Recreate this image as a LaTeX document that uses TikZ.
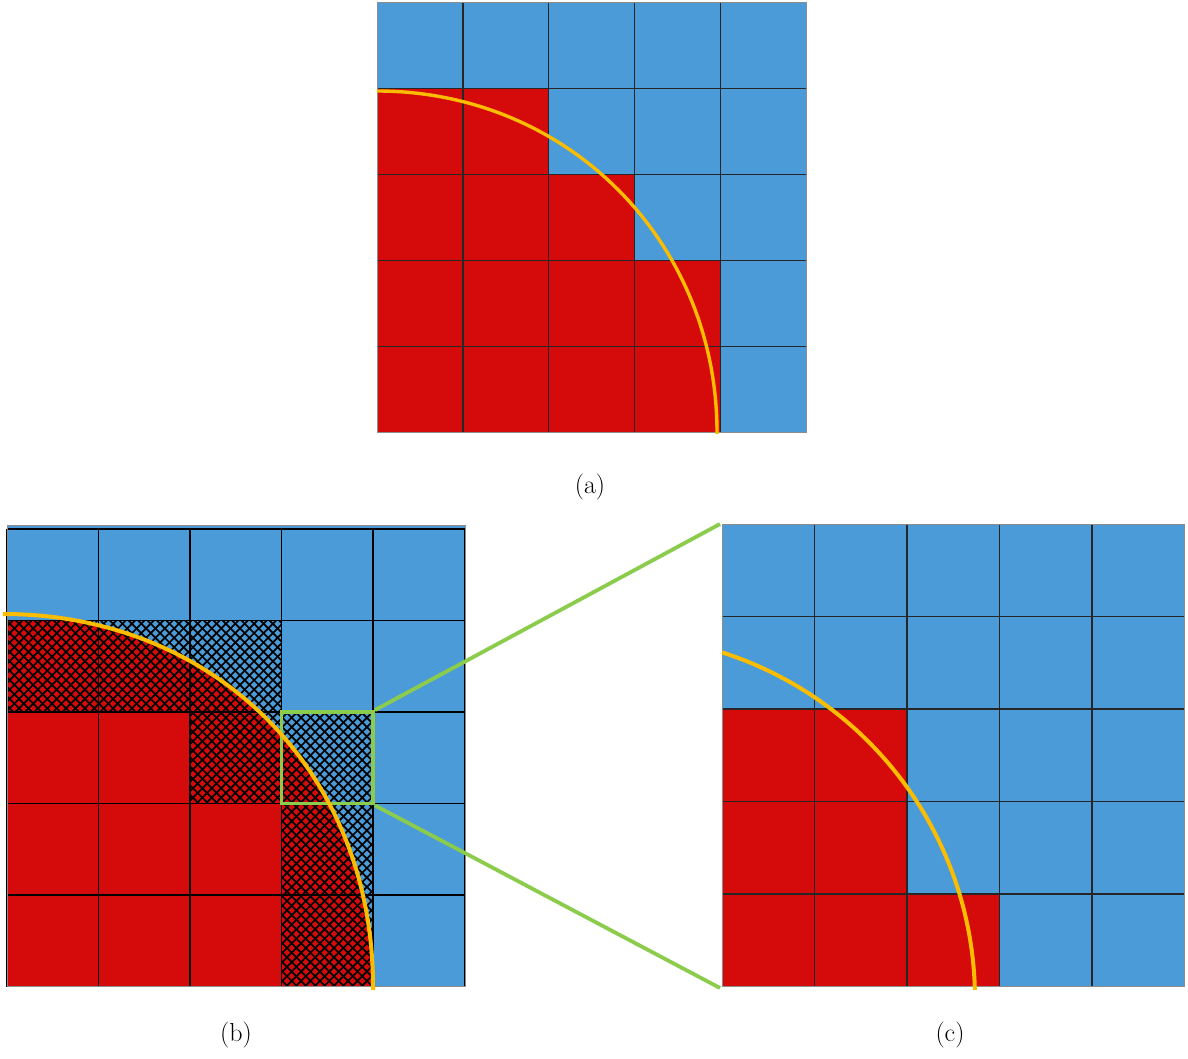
\documentclass[tikz,border=0pt]{standalone}
\begin{document}
\definecolor{cblue}{RGB}{74,155,215}
\definecolor{cred}{RGB}{213,11,11}
\definecolor{corange}{RGB}{252,188,0}
\definecolor{cgreen}{RGB}{140,204,76}
\begin{tikzpicture}[x=1pt,y=-1pt,
  thingrid/.style={draw=black!85,line width=1.2pt},
  thickgrid/.style={draw=black,line width=1.8pt},
  frameline/.style={draw=black!45,line width=1pt},
  arcline/.style={draw=corange,line width=4pt},
  hatchline/.style={draw=black,line width=1.7pt},
  greenline/.style={draw=cgreen,line width=3.8pt},
  caption/.style={font=\fontsize{26}{30}\selectfont,inner sep=0pt}]
\useasboundingbox (0,0) rectangle (1188,1059);

% ---------- panel (a) ----------
\def\ax{377}\def\ay{3}\def\ad{85.9}
\fill[cblue] (\ax,\ay) rectangle ++(5*\ad,5*\ad);
\foreach \c/\r in {0/1,1/1,0/2,1/2,2/2,0/3,1/3,2/3,3/3,0/4,1/4,2/4,3/4}
  \fill[cred] ({\ax+\c*\ad},{\ay+\r*\ad}) rectangle ++(\ad,\ad);
\foreach \i in {1,...,4}{
  \draw[thingrid] ({\ax+\i*\ad},\ay) -- ++(0,5*\ad);
  \draw[thingrid] (\ax,{\ay+\i*\ad}) -- ++(5*\ad,0);}
\draw[frameline] (\ax,\ay) rectangle ++(5*\ad,5*\ad);
\draw[arcline,line width=3.4pt] (377,91) .. controls (567.4,91) and (717,241.3) .. (717,432.5) -- (717,434);
\node[caption] (capa) at (590,487) {(a)};

% ---------- panel (b) ----------
\def\bx{7}\def\by{529}\def\bd{91.5}
\fill[cblue] (\bx,525) rectangle (465,986.5);
\foreach \c/\r in {0/2,1/2,0/3,1/3,2/3,0/4,1/4,2/4}
  \fill[cred] ({\bx+\c*\bd},{\by+\r*\bd}) rectangle ++(\bd,\bd);
\begin{scope}
  \clip \foreach \c/\r in {0/1,1/1,2/1,2/2,3/2,3/3,3/4}{({\bx+\c*\bd},{\by+\r*\bd}) rectangle ++(\bd,\bd)};
  \fill[cred] (3,986.5) -- (3,614) .. controls (215.75,614) and (373,772.3) .. (373,986.5) -- cycle;
  \foreach \k in {-52,...,52}{
    \draw[hatchline] ({\k*9.4},520) -- ++(480,480);
    \draw[hatchline] ({\k*9.4+480},520) -- ++(-480,480);}
\end{scope}
\foreach \i in {0,...,5}{
  \draw[thickgrid] ({\bx+\i*\bd},\by) -- ++(0,5*\bd);
  \draw[thickgrid] (\bx,{\by+\i*\bd}) -- ++(5*\bd,0);}
\draw[frameline] (\bx,525) rectangle (465,986.5);
\node[draw=cgreen,line width=3.8pt,minimum size=91.5pt,inner sep=0pt] (zoombox) at (327.25,757.75) {};
\draw[arcline] (3,614) .. controls (215.75,614) and (373,772.3) .. (373,986.5) -- (373,990);
\node[caption] (capb) at (236,1035) {(b)};

% ---------- panel (c) ----------
\def\cx{722}\def\cy{524}\def\cd{92.5}
\fill[cblue] (\cx,\cy) rectangle ++(5*\cd,5*\cd);
\foreach \c/\r in {0/2,1/2,0/3,1/3,0/4,1/4,2/4}
  \fill[cred] ({\cx+\c*\cd},{\cy+\r*\cd}) rectangle ++(\cd,\cd);
\foreach \i in {1,...,4}{
  \draw[thingrid] ({\cx+\i*\cd},\cy) -- ++(0,5*\cd);
  \draw[thingrid] (\cx,{\cy+\i*\cd}) -- ++(5*\cd,0);}
\draw[frameline] (\cx,\cy) rectangle ++(5*\cd,5*\cd);
\draw[arcline] plot[domain=72.24:1.42,samples=80,smooth] ({611+364*cos(\x)},{999-364*sin(\x)});
\node[caption] (capc) at (950,1035) {(c)};

% ---------- zoom connectors ----------
\coordinate (ctl) at (720,524);
\coordinate (cbl) at (720,988);
\draw[greenline] (zoombox.north east) -- (ctl);
\draw[greenline] (zoombox.south east) -- (cbl);
\end{tikzpicture}
\end{document}
